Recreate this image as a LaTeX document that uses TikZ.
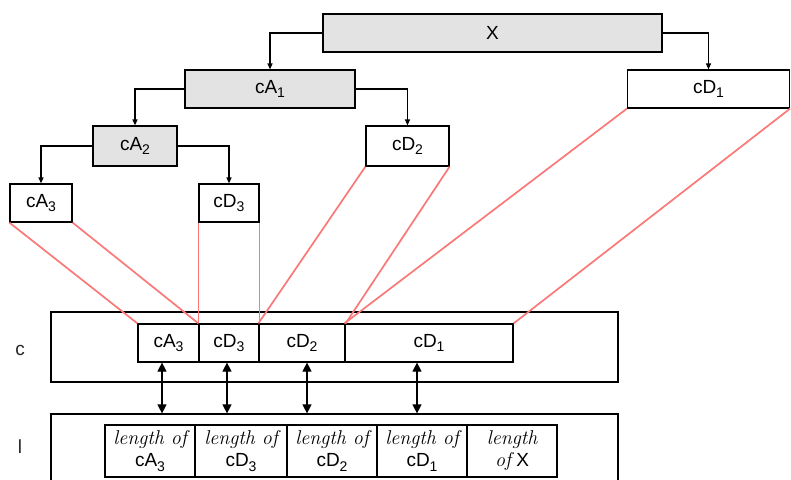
\documentclass[tikz,border=0pt]{standalone}
\usepackage{fontspec}
\newfontfamily\boxfont{Liberation Sans}
\usepackage{tikz}
\usetikzlibrary{arrows.meta}
\usepackage{xcolor}
\definecolor{linkred}{RGB}{250,120,120}
\newcommand\lenfont{\rmfamily\itshape\fontsize{20}{21}\selectfont}
\newcommand\sub[1]{\raisebox{-0.45ex}{\fontsize{14}{14}\selectfont #1}}

\begin{document}
\begin{tikzpicture}[x=1pt,y=-1pt,
    box/.style={draw, line width=1.2pt, inner sep=0pt, minimum height=38pt,
      font=\boxfont\fontsize{19}{21}\selectfont},
    shaded/.style={box, fill=gray!22},
    lencell/.style={box, align=center, minimum width=90pt, minimum height=52pt},
    tree/.style={line width=1.2pt, -{Triangle[length=6pt,width=5pt]}},
    link/.style={draw=linkred, line width=1.7pt},
    both/.style={line width=1.2pt,
      {Triangle[length=9pt,width=9pt]}-{Triangle[length=9pt,width=9pt]}}]
			
			\useasboundingbox (0,0) rectangle (791,479);
			
			% decomposition tree
			\node[shaded, minimum width=339pt] (X) at (492.5,33) {X};
			\node[shaded, minimum width=170pt] (cA1) at (270,89) {cA\sub{1}};
			\node[box, minimum width=162pt] (cD1) at (708.5,89) {cD\sub{1}};
			\node[shaded, minimum width=84pt, minimum height=40pt] (cA2) at (135,146) {cA\sub{2}};
			\node[box, minimum width=83pt, minimum height=40pt] (cD2) at (407.5,146) {cD\sub{2}};
			\node[box, minimum width=62pt] (cA3) at (41,203) {cA\sub{3}};
			\node[box, minimum width=60pt] (cD3) at (229,203) {cD\sub{3}};
			
			\draw[tree] (X.west) -| (cA1.north);
			\draw[tree] (X.east) -| (cD1.north);
			\draw[tree] (cA1.west) -| (cA2.north);
			\draw[tree] (cA1.east) -| (cD2.north);
			\draw[tree] (cA2.west) -| (cA3.north);
			\draw[tree] (cA2.east) -| (cD3.north);
			
			% vector c
			\node[box, minimum width=567pt, minimum height=70pt] (cvec) at (334.5,347) {};
			\node[box, minimum width=61pt] (sA3) at (168.5,343) {cA\sub{3}};
			\node[box, minimum width=60pt] (sD3) at (229,343) {cD\sub{3}};
			\node[box, minimum width=86pt] (sD2) at (302,343) {cD\sub{2}};
			\node[box, minimum width=168pt] (sD1) at (429,343) {cD\sub{1}};
			\node[font=\boxfont\fontsize{19}{21}\selectfont, text=black!85] (clab) at (20,350) {c};
			
			% vector l
			\node[box, minimum width=567pt, minimum height=80pt] (lvec) at (334.5,454) {};
			\node[lencell] (lA3) at (150,451) {{\lenfont length of}\\[1pt]cA\sub{3}};
			\node[lencell, minimum width=92pt] (lD3) at (241,451) {{\lenfont length of}\\[1pt]cD\sub{3}};
			\node[lencell] (lD2) at (332,451) {{\lenfont length of}\\[1pt]cD\sub{2}};
			\node[lencell] (lD1) at (422,451) {{\lenfont length of}\\[1pt]cD\sub{1}};
			\node[lencell] (lX) at (512,451) {{\lenfont length}\\[1pt]{\lenfont of} X};
			\node[font=\boxfont\fontsize{19}{21}\selectfont, text=black!85] (llab) at (20,447) {l};
			
			% where each part lands in c
			\draw[link] (cA3.south west) -- (sA3.north west);
			\draw[link] (cA3.south east) -- (sD3.north west);
			\draw[link] (cD3.south west) -- (sD3.north west);
			\draw[link] (cD3.south east) -- (sD3.north east);
			\draw[link] (cD2.south west) -- (sD2.north west);
			\draw[link] (cD2.south east) -- (sD2.north east);
			\draw[link] (cD1.south west) -- (sD1.north west);
			\draw[link] (cD1.south east) -- (sD1.north east);
			
			% c <-> l
			\draw[both] ([xshift=-6.5pt]sA3.south) -- ([xshift=-6.5pt]sA3.south |- lvec.north);
			\draw[both] ([xshift=-2pt]sD3.south) -- ([xshift=-2pt]sD3.south |- lvec.north);
			\draw[both] ([xshift=5pt]sD2.south) -- ([xshift=5pt]sD2.south |- lvec.north);
			\draw[both] ([xshift=-12pt]sD1.south) -- ([xshift=-12pt]sD1.south |- lvec.north);
			
		\end{tikzpicture}
\end{document}
